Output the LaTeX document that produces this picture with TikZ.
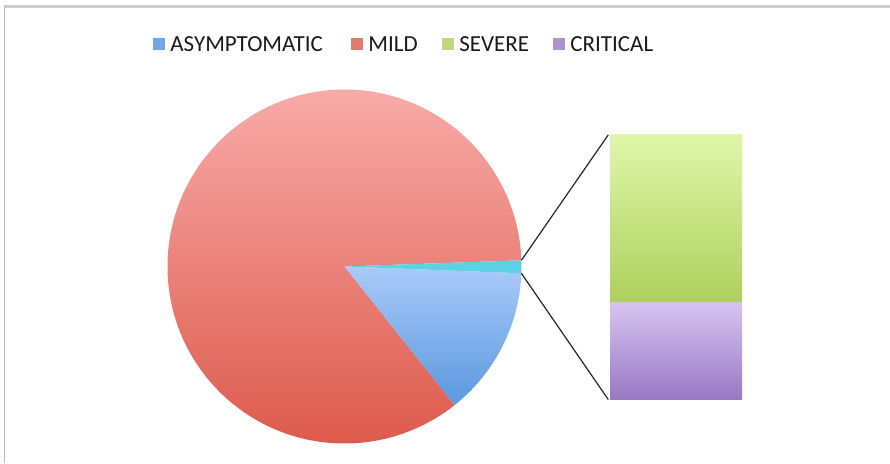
\documentclass[tikz,border=0pt]{standalone}
\usepackage{fontspec}
\setmainfont{Carlito}
\usetikzlibrary{positioning}

\definecolor{mildtop}{HTML}{F8ABA8}
\definecolor{mildbot}{HTML}{DC5A4C}
\definecolor{asymtop}{HTML}{AACAF8}
\definecolor{asymbot}{HTML}{5A98DE}
\definecolor{othercol}{HTML}{5CD2E2}
\definecolor{sevtop}{HTML}{DFF6AA}
\definecolor{sevbot}{HTML}{AECF5E}
\definecolor{crittop}{HTML}{D6C4F0}
\definecolor{critbot}{HTML}{9878C2}

\begin{document}
\begin{tikzpicture}[x=1pt,y=1pt,node distance=5pt]

  \tikzstyle{key}=[rectangle,inner sep=0pt,minimum size=12pt]
  \tikzstyle{keytext}=[font=\fontsize{23}{25}\selectfont,text=black!90,inner sep=0pt,anchor=west]
  \tikzstyle{bar}=[rectangle,inner sep=0pt,minimum width=132pt]
  \tikzstyle{zoomline}=[draw=black!85,line width=1.2pt]

  \useasboundingbox (0,0) rectangle (890,463);
  \draw[black!20,line width=2.2pt] (4,456.5) -- (890,456.5);
  \draw[black!25,line width=0.8pt] (4,456.5) -- (4,0);

  % legend
  \node[key,fill=asymbot!85] (kasym) at (159,418.5) {};
  \node[keytext,right=of kasym] (tasym) {ASYMPTOMATIC};
  \node[key,fill=mildbot!80] (kmild) at (357,418.5) {};
  \node[keytext,right=of kmild] (tmild) {MILD};
  \node[key,fill=sevbot!80] (ksev) at (448,418.5) {};
  \node[keytext,right=of ksev] (tsev) {SEVERE};
  \node[key,fill=critbot!80] (kcrit) at (559,418.5) {};
  \node[keytext,right=of kcrit] (tcrit) {CRITICAL};

  % pie
  \coordinate (c) at (344.5,196.5);
  \shade[top color=mildtop,bottom color=mildbot] (c) -- ++(2:177) arc (2:308.5:177) -- cycle;
  \shade[top color=asymtop,bottom color=asymbot] (c) -- ++(-51.5:177) arc (-51.5:-2.2:177) -- cycle;
  \fill[othercol] (c) -- ++(-2.2:177) arc (-2.2:2:177) -- cycle;
  \coordinate (otop) at ([shift={(2:177)}]c);
  \coordinate (obot) at ([shift={(-2.2:177)}]c);

  % bar of pie
  \node[bar,minimum height=167pt,top color=sevtop,bottom color=sevbot] (severe) at (676,244.5) {};
  \node[bar,minimum height=97pt,below=0pt of severe,top color=crittop,bottom color=critbot] (critical) {};

  \draw[zoomline] (otop) -- ([xshift=-1.5pt]severe.north west);
  \draw[zoomline] (obot) -- ([xshift=-1.5pt]critical.south west);

\end{tikzpicture}
\end{document}
